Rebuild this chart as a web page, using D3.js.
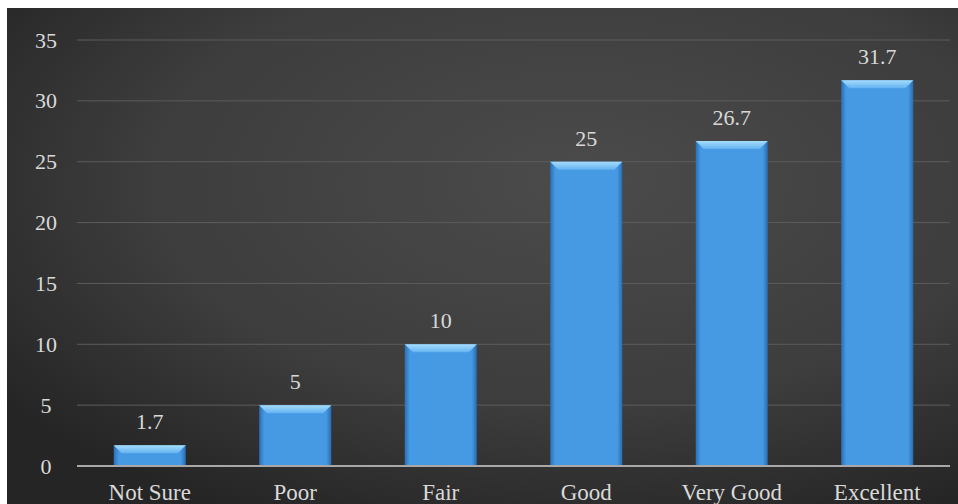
<!DOCTYPE html>
<html><head><meta charset="utf-8">
<script src="https://cdn.jsdelivr.net/npm/d3@7"></script>
<style>html,body{margin:0;padding:0;background:#fff;}svg{display:block;}</style>
</head><body>
<svg id="c" width="958" height="504"></svg>
<script>
const categories = ["Not Sure", "Poor", "Fair", "Good", "Very Good", "Excellent"];
const values = [1.7, 5, 10, 25, 26.7, 31.7];
const valueLabels = ["1.7", "5", "10", "25", "26.7", "31.7"];
const yTicks = [0, 5, 10, 15, 20, 25, 30, 35];

const svg = d3.select("#c");
const W = 958, H = 504;
const defs = svg.append("defs");

const bg = defs.append("radialGradient").attr("id","bg")
  .attr("cx","0.6").attr("cy","0.35").attr("r","0.75");
bg.append("stop").attr("offset","0").attr("stop-color","#4b4b4b");
bg.append("stop").attr("offset","0.6").attr("stop-color","#3d3d3d");
bg.append("stop").attr("offset","1").attr("stop-color","#252525");

const barG = defs.append("linearGradient").attr("id","barg").attr("x1","0").attr("x2","1").attr("y1","0").attr("y2","0");
barG.append("stop").attr("offset","0").attr("stop-color","#2a70b5");
barG.append("stop").attr("offset","0.07").attr("stop-color","#4699e3");
barG.append("stop").attr("offset","0.93").attr("stop-color","#4699e3");
barG.append("stop").attr("offset","1").attr("stop-color","#286cb0");

const bevG = defs.append("linearGradient").attr("id","bev").attr("x1","0").attr("x2","0").attr("y1","0").attr("y2","1");
bevG.append("stop").attr("offset","0").attr("stop-color","#a6dcfb");
bevG.append("stop").attr("offset","1").attr("stop-color","#62b3f1");

svg.append("rect").attr("x",7).attr("y",8).attr("width",W-7).attr("height",H-8).attr("fill","url(#bg)");

const x = d3.scaleBand().domain(categories).range([77, 950]).paddingInner(0.505).paddingOuter(0.2525);
const y = d3.scaleLinear().domain([0, 35]).range([466, 40]);

const grid = svg.append("g");
grid.selectAll("line").data(yTicks.filter(d => d > 0)).join("line")
  .attr("x1", 77).attr("x2", 950)
  .attr("y1", d => y(d)).attr("y2", d => y(d))
  .attr("stroke", "#5c5c5c").attr("stroke-width", 1);

const yAxis = d3.axisLeft(y).tickValues(yTicks).tickSize(0).tickPadding(0).tickFormat(d3.format("d"));
const ya = svg.append("g").attr("transform","translate(46,0)").call(yAxis);
ya.select(".domain").remove();
ya.selectAll("text").attr("text-anchor","middle").attr("x",0)
  .attr("fill","#d9d9d9").attr("font-family","'Liberation Serif', serif").attr("font-size",22);

const bars = svg.append("g").selectAll("g").data(values).join("g");
bars.append("rect")
  .attr("x", (d,i) => x(categories[i])).attr("width", x.bandwidth())
  .attr("y", d => y(d)).attr("height", d => y(0) - y(d))
  .attr("fill", "url(#barg)");
bars.append("path")
  .attr("d", (d,i) => {
    const x0 = x(categories[i]), w = x.bandwidth(), t = y(d), b = 8;
    return `M${x0},${t}L${x0+w},${t}L${x0+w-b},${t+b}L${x0+b},${t+b}Z`;
  })
  .attr("fill", "url(#bev)");

svg.append("line").attr("x1",77).attr("x2",950).attr("y1",y(0)).attr("y2",y(0))
  .attr("stroke","#a8a8a8").attr("stroke-width",2);

svg.append("g").selectAll("text").data(values).join("text")
  .attr("x", (d,i) => x(categories[i]) + x.bandwidth()/2)
  .attr("y", d => y(d) - 16)
  .attr("text-anchor","middle")
  .attr("fill","#d9d9d9").attr("font-family","'Liberation Serif', serif").attr("font-size",22)
  .text((d,i) => valueLabels[i]);

const xAxis = d3.axisBottom(x).tickSize(0).tickPadding(0);
const xa = svg.append("g").attr("transform","translate(0,500)").call(xAxis);
xa.select(".domain").remove();
xa.selectAll("text").attr("dy", 0).attr("y", 0)
  .attr("fill","#d9d9d9").attr("font-family","'Liberation Serif', serif").attr("font-size",23);
</script>
</body></html>
